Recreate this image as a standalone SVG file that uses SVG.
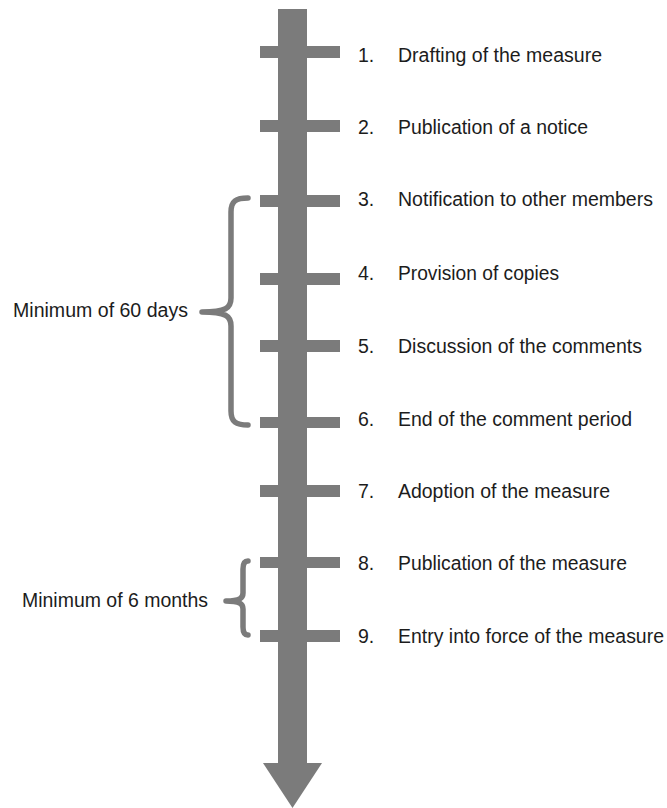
<svg xmlns="http://www.w3.org/2000/svg" width="667" height="808" viewBox="0 0 667 808">
<style>
.bar{fill:#7b7b7b}
.tick{fill:#7b7b7b}
.brace{fill:none;stroke:#7b7b7b;stroke-width:5.5;stroke-linecap:round;stroke-linejoin:round}
text{font-family:"Liberation Sans",Arial,sans-serif;font-size:19.5px;fill:#1c1c1c}
</style>
<rect width="667" height="808" fill="#ffffff"/>
<g id="timeline">
<rect class="bar" x="278" y="9" width="29" height="756"/>
<polygon class="bar" points="263,763 322,763 292.5,808"/>
</g>
<g id="step1"><rect class="tick" x="260" y="46" width="80" height="12"/><text x="358" y="62">1.</text><text x="398" y="62" textLength="204" lengthAdjust="spacingAndGlyphs">Drafting of the measure</text></g>
<g id="step2"><rect class="tick" x="260" y="120" width="80" height="12"/><text x="358" y="134">2.</text><text x="398" y="134" textLength="190" lengthAdjust="spacingAndGlyphs">Publication of a notice</text></g>
<g id="step3"><rect class="tick" x="260" y="195" width="80" height="12"/><text x="358" y="206">3.</text><text x="398" y="206" textLength="255" lengthAdjust="spacingAndGlyphs">Notification to other members</text></g>
<g id="step4"><rect class="tick" x="260" y="273" width="80" height="12"/><text x="358" y="280">4.</text><text x="398" y="280" textLength="161" lengthAdjust="spacingAndGlyphs">Provision of copies</text></g>
<g id="step5"><rect class="tick" x="260" y="340" width="80" height="12"/><text x="358" y="353">5.</text><text x="398" y="353" textLength="244" lengthAdjust="spacingAndGlyphs">Discussion of the comments</text></g>
<g id="step6"><rect class="tick" x="260" y="417" width="80" height="11"/><text x="358" y="426">6.</text><text x="398" y="426" textLength="234" lengthAdjust="spacingAndGlyphs">End of the comment period</text></g>
<g id="step7"><rect class="tick" x="260" y="485" width="80" height="12"/><text x="358" y="498">7.</text><text x="398" y="498" textLength="212" lengthAdjust="spacingAndGlyphs">Adoption of the measure</text></g>
<g id="step8"><rect class="tick" x="260" y="557" width="80" height="11"/><text x="358" y="570">8.</text><text x="398" y="570" textLength="229" lengthAdjust="spacingAndGlyphs">Publication of the measure</text></g>
<g id="step9"><rect class="tick" x="260" y="630" width="80" height="12"/><text x="358" y="643">9.</text><text x="398" y="643" textLength="266" lengthAdjust="spacingAndGlyphs">Entry into force of the measure</text></g>
<g id="brace60">
<path class="brace" d="M248,198 C236,198 231,201 231,212 L231,298 C231,308 226,312 202,312 C226,312 231,316 231,326 L231,411 C231,422 236,425 248,425"/>
<text x="13" y="317" textLength="175" lengthAdjust="spacingAndGlyphs">Minimum of 60 days</text>
</g>
<g id="brace6">
<path class="brace" d="M248,561 C245,561 243,563 243,569 L243,593 C243,598 240,601 226,601 C240,601 243,604 243,609 L243,627 C243,633 245,635 248,635"/>
<text x="22" y="607" textLength="186" lengthAdjust="spacingAndGlyphs">Minimum of 6 months</text>
</g>
</svg>
